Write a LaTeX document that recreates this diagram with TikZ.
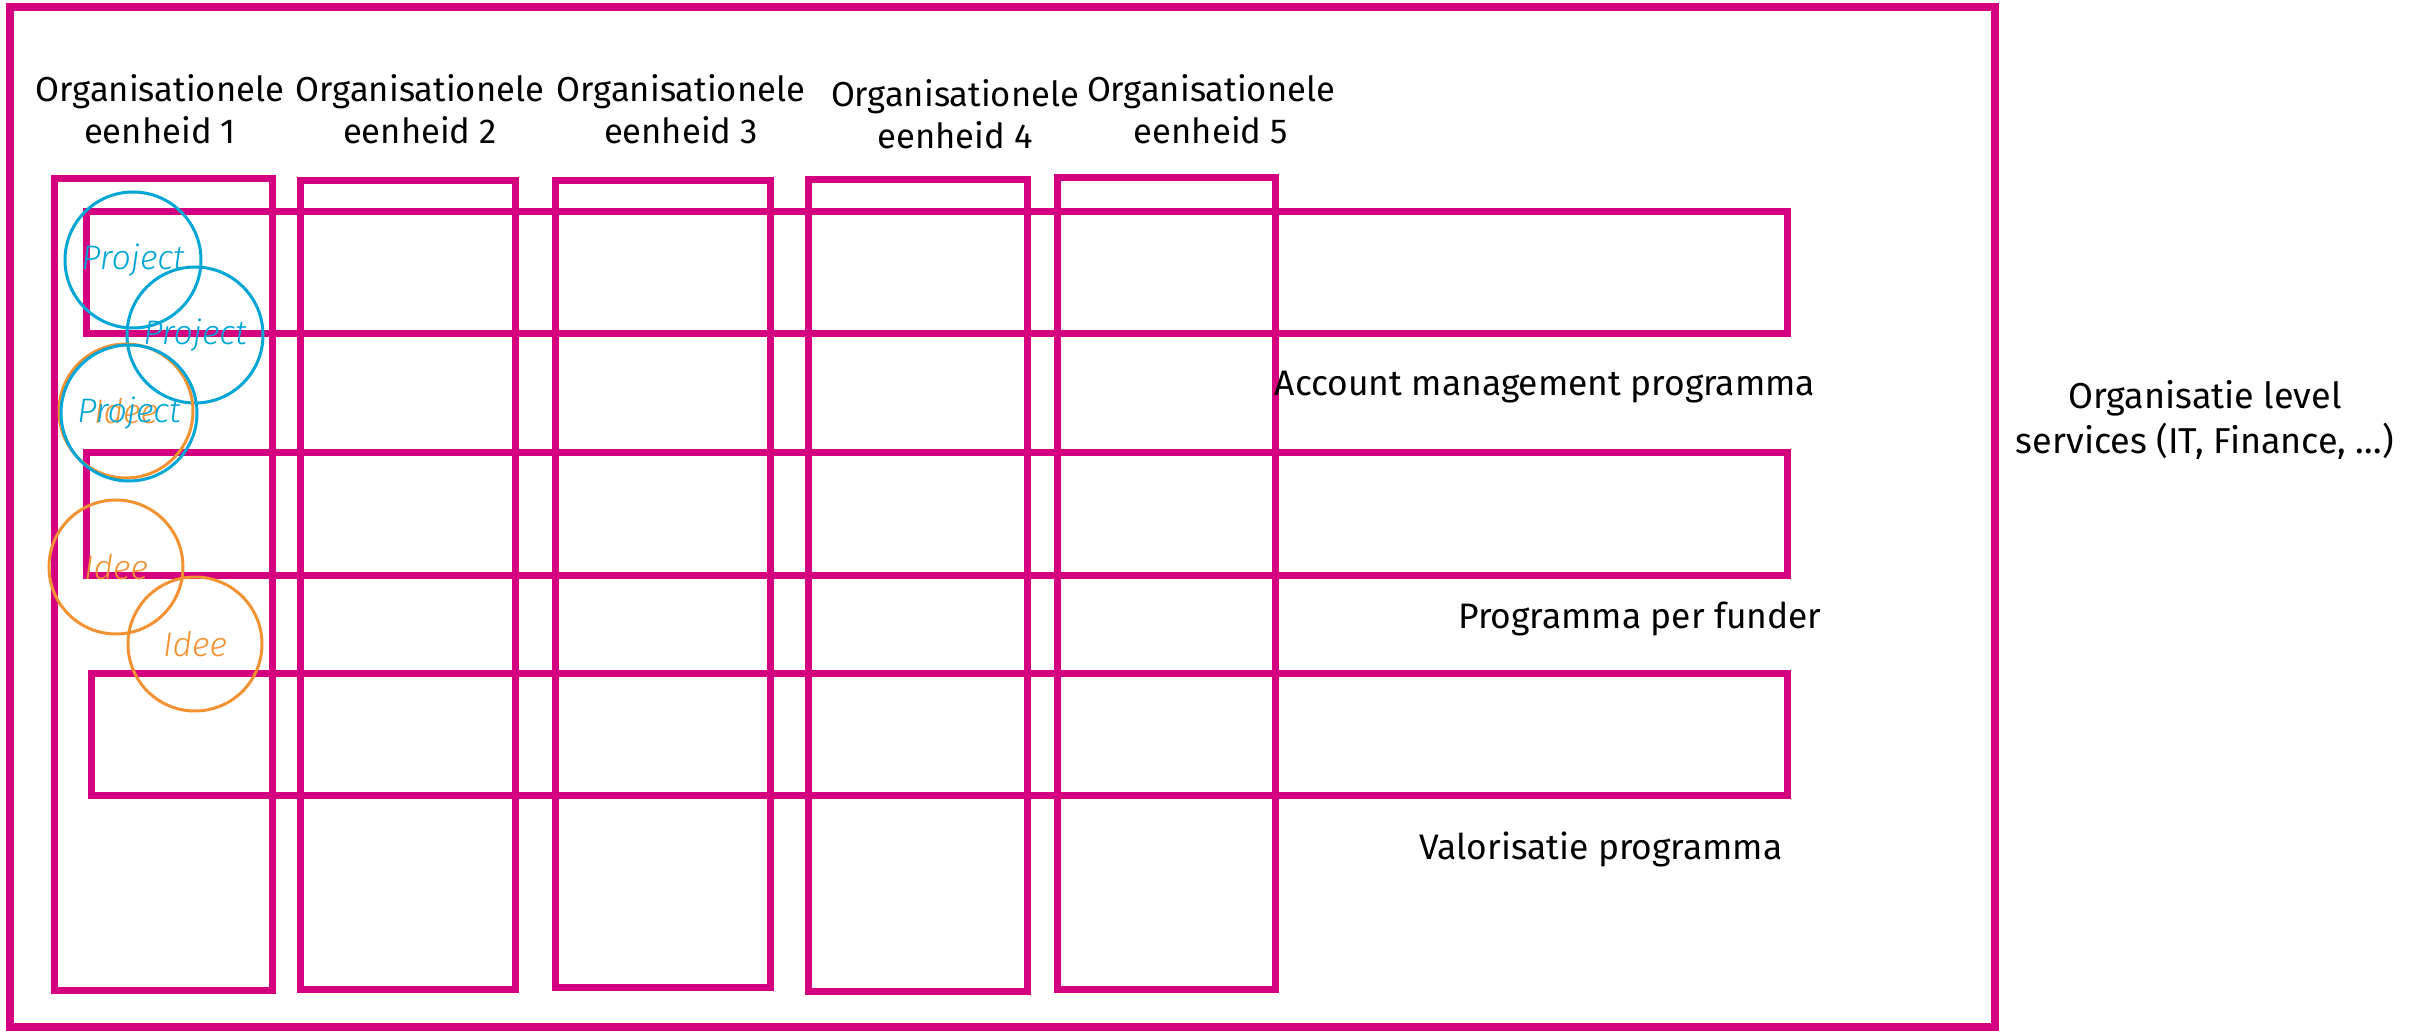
\documentclass[tikz,border=0pt]{standalone}
\usepackage{fontspec}
\setmainfont{Fira Sans}
\newfontfamily\circfont{Fira Sans Light}[ItalicFont={Fira Sans Light Italic}]
\definecolor{mag}{RGB}{213,0,127}
\definecolor{pblue}{RGB}{0,166,214}
\definecolor{iorange}{RGB}{243,146,51}
\begin{document}
\begin{tikzpicture}[x=0.5pt,y=-0.5pt,
  outerbox/.style={draw=mag,line width=4pt},
  colbox/.style={draw=mag,line width=3.5pt},
  rowbox/.style={draw=mag,line width=3.5pt},
  unitlab/.style={align=center,inner sep=0pt,font=\fontsize{17.3}{21}\selectfont},
  rowlab/.style={inner sep=0pt,font=\fontsize{17.7}{22}\selectfont},
  orglab/.style={align=center,inner sep=0pt,font=\fontsize{18}{22.5}\selectfont},
  projcirc/.style={circle,draw=pblue,line width=1.5pt,minimum size=68pt,inner sep=0pt,text=pblue,font=\fontsize{17}{19}\circfont\itshape},
  ideecirc/.style={circle,draw=iorange,line width=1.5pt,minimum size=67pt,inner sep=0pt,text=iorange,font=\fontsize{17}{19}\circfont\itshape}]
\useasboundingbox (0,0) rectangle (2417,1031);
% outer organisation box
\draw[outerbox] (10,7) rectangle (1995,1027);
% programme rows
\draw[rowbox] (86,212) rectangle (1787,334);
\draw[rowbox] (86,453) rectangle (1787,576);
\draw[rowbox] (91,674) rectangle (1787,796);
% organisational unit columns
\draw[colbox] (54,179) rectangle (272,990);
\draw[colbox] (300,181) rectangle (515,989);
\draw[colbox] (555,181) rectangle (770,987);
\draw[colbox] (808,180) rectangle (1027,991);
\draw[colbox] (1057,178) rectangle (1275,989);
% labels
\node[unitlab] (u1) at (160,109) {Organisationele\\eenheid 1};
\node[unitlab] (u2) at (420,109) {Organisationele\\eenheid 2};
\node[unitlab] (u3) at (681,109) {Organisationele\\eenheid 3};
\node[unitlab] (u4) at (955,114) {Organisationele\\eenheid 4};
\node[unitlab] (u5) at (1211,109) {Organisationele\\eenheid 5};
\node[rowlab] (r1) at (1545,387) {Account management programma};
\node[rowlab] (r2) at (1640,619) {Programma per funder};
\node[rowlab] (r3) at (1601,849) {Valorisatie programma};
\node[orglab] (org) at (2205,420) {Organisatie level\\services (IT, Finance, …)};
% projects and ideas
\node[projcirc] (p1) at (133,260) {Project};
\node[projcirc] (p2) at (195,335) {Project};
\node[ideecirc] (i0) at (126,411) {Idee};
\node[projcirc] (p3) at (129,413) {Project};
\node[ideecirc] (i1) at (116,567) {Idee};
\node[ideecirc] (i2) at (195,644) {Idee};
\end{tikzpicture}
\end{document}
